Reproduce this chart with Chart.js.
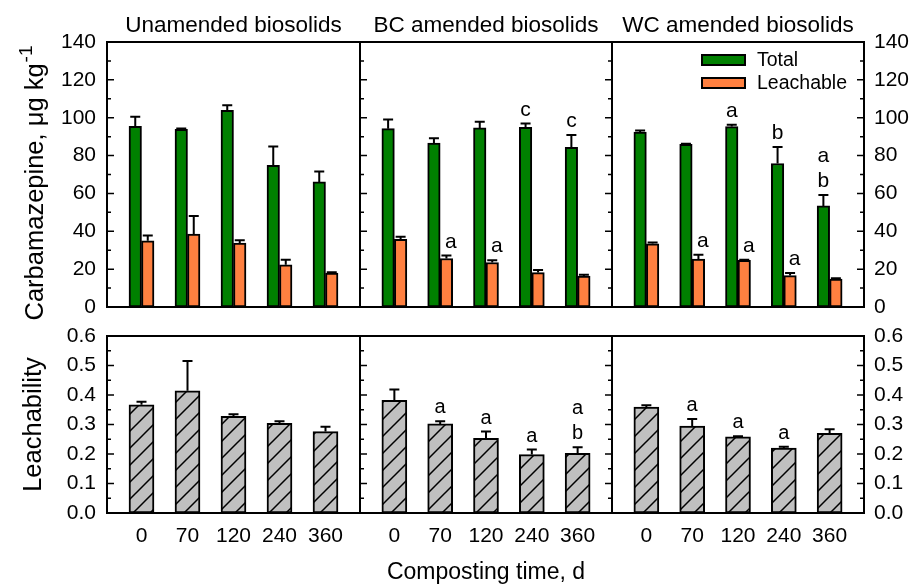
<!DOCTYPE html>
<html><head><meta charset="utf-8">
<script src="https://cdn.jsdelivr.net/npm/chart.js@4/dist/chart.umd.min.js"></script>
<style>
html,body{margin:0;padding:0;background:#fff;}
#wrap{position:relative;width:916px;height:586px;overflow:hidden;background:#fff;}
canvas{position:absolute;}
</style></head>
<body><div id="wrap">
<canvas id="c0" width="360" height="337" style="left:0;top:0"></canvas>
<canvas id="c1" width="252" height="337" style="left:360px;top:0"></canvas>
<canvas id="c2" width="304" height="337" style="left:612px;top:0"></canvas>
<canvas id="c3" width="360" height="280" style="left:0;top:306px"></canvas>
<canvas id="c4" width="252" height="280" style="left:360px;top:306px"></canvas>
<canvas id="c5" width="304" height="280" style="left:612px;top:306px"></canvas>
</div>
<script>
// ---------------- data ----------------
const days = ['0', '70', '120', '240', '360'];
const treatments = ['Unamended biosolids', 'BC amended biosolids', 'WC amended biosolids'];
const seriesNames = ['Total', 'Leachable'];
const yTitleTop = 'Carbamazepine, \u03bcg kg';
const yTitleTopSup = '-1';
const yTitleBottom = 'Leachability';
const xTitle = 'Composting time, d';

const totalUn = [95.5, 93.8, 103.9, 74.8, 66.1];
const totalUnErr = [5.0, 0.5, 2.7, 10.0, 5.5];
const leachUn = [35.0, 38.5, 33.8, 22.3, 17.9];
const leachUnErr = [2.8, 9.6, 1.4, 2.6, 0.5];

const totalBC = [94.2, 86.6, 94.6, 94.9, 84.3];
const totalBCErr = [4.8, 2.5, 3.3, 2.0, 6.6];
const leachBC = [35.7, 25.6, 23.5, 18.2, 16.4];
const leachBCErr = [1.4, 1.6, 1.2, 1.4, 0.7];

const totalWC = [92.4, 85.9, 95.3, 75.8, 53.4];
const totalWCErr = [0.9, 0.4, 1.0, 8.7, 5.8];
const leachWC = [33.4, 25.3, 24.7, 16.6, 14.8];
const leachWCErr = [0.7, 2.3, 0.3, 1.4, 0.4];

const leachabilityUn = [0.367, 0.414, 0.328, 0.304, 0.276];
const leachabilityUnErr = [0.010, 0.101, 0.007, 0.007, 0.016];
const leachabilityBC = [0.382, 0.302, 0.253, 0.198, 0.202];
const leachabilityBCErr = [0.037, 0.009, 0.023, 0.017, 0.021];
const leachabilityWC = [0.359, 0.295, 0.258, 0.220, 0.270];
const leachabilityWCErr = [0.006, 0.024, 0.002, 0.005, 0.014];

// significance letters (stacked top to bottom)
const none = [[], [], [], [], []];
const totalBCLetters = [[], [], [], ['c'], ['c']];
const leachBCLetters = [[], ['a'], ['a'], [], []];
const totalWCLetters = [[], [], ['a'], ['b'], ['a', 'b']];
const leachWCLetters = [[], ['a'], ['a'], ['a'], []];
const leachabilityBCLetters = [[], ['a'], ['a'], ['a'], ['a', 'b']];
const leachabilityWCLetters = [[], ['a'], ['a'], ['a'], []];

const yTicksTop = [0, 140, 20, 10];      // min, max, major step, minor step
const yTicksBottom = [0, 0.6, 0.1, 0.05];

// ---------------- styling ----------------
const FONT = "'Liberation Sans', Arial, Helvetica, sans-serif";
Chart.defaults.font.family = FONT;
Chart.defaults.color = '#000';
Chart.defaults.animation = false;

const GREEN = '#008000';
const ORANGE = '#ff8040';

function hatchPattern() {
  const s = 17;
  const c = document.createElement('canvas');
  c.width = s; c.height = s;
  const g = c.getContext('2d');
  g.fillStyle = '#c0c0c0';
  g.fillRect(0, 0, s, s);
  g.strokeStyle = '#000';
  g.lineWidth = 1.5;
  g.beginPath();
  g.moveTo(-2, s + 2); g.lineTo(s + 2, -2);
  g.moveTo(-2, 2); g.lineTo(2, -2);
  g.moveTo(s - 2, s + 2); g.lineTo(s + 2, s - 2);
  g.stroke();
  return g.createPattern(c, 'repeat');
}

const pts = arr => arr.map((v, i) => ({x: i, y: v}));

// ---------------- plugins ----------------
const framePlugin = {
  id: 'frame',
  afterDraw(chart, args, o) {
    const {ctx, chartArea: a} = chart;
    const y = chart.scales.y;
    ctx.save();
    ctx.strokeStyle = '#000';
    ctx.lineWidth = 1.5;
    ctx.beginPath();
    const n = Math.round((o.max - o.min) / o.minor);
    for (let k = 0; k <= n; k++) {
      const v = o.min + k * o.minor;
      const py = y.getPixelForValue(v);
      const len = (k % 2 === 0) ? 7 : 4;
      if (o.left) { ctx.moveTo(a.left, py); ctx.lineTo(a.left + len, py); }
      if (o.right) { ctx.moveTo(a.right, py); ctx.lineTo(a.right - len, py); }
    }
    ctx.stroke();
    ctx.lineWidth = 2;
    ctx.strokeRect(a.left, a.top, a.right - a.left, a.bottom - a.top);
    ctx.restore();
  }
};

const errPlugin = {
  id: 'errbars',
  afterDatasetsDraw(chart, args, o) {
    const ctx = chart.ctx, y = chart.scales.y;
    ctx.save();
    chart.data.datasets.forEach((ds, di) => {
      const meta = chart.getDatasetMeta(di);
      meta.data.forEach((bar, i) => {
        const v = ds.data[i].y;
        const e = ds.errors ? ds.errors[i] : 0;
        const top = y.getPixelForValue(v + e);
        ctx.strokeStyle = '#000';
        ctx.lineWidth = 2;
        ctx.beginPath();
        ctx.moveTo(bar.x, bar.y);
        ctx.lineTo(bar.x, top);
        ctx.moveTo(bar.x - 5, top);
        ctx.lineTo(bar.x + 5, top);
        ctx.stroke();
        const L = ds.letters ? ds.letters[i] : [];
        if (L && L.length) {
          ctx.fillStyle = '#000';
          ctx.font = o.letterSize + 'px ' + FONT;
          ctx.textAlign = 'center';
          ctx.textBaseline = 'alphabetic';
          for (let k = 0; k < L.length; k++) {
            const txt = L[L.length - 1 - k];
            ctx.fillText(txt, bar.x + (ds.letterDx || 0), top - 8 - k * 25);
          }
        }
      });
    });
    ctx.restore();
  }
};

const panelTitlePlugin = {
  id: 'panelTitle',
  afterDraw(chart, args, o) {
    if (!o.text) return;
    const {ctx, chartArea: a} = chart;
    ctx.save();
    ctx.fillStyle = '#000';
    ctx.font = '22.5px ' + FONT;
    ctx.textAlign = 'center';
    ctx.textBaseline = 'alphabetic';
    ctx.fillText(o.text, (a.left + a.right) / 2, 31.5);
    ctx.restore();
  }
};

const supTitlePlugin = {
  id: 'supTitle',
  afterDraw(chart, args, o) {
    if (!o.text) return;
    const ctx = chart.ctx;
    ctx.save();
    ctx.fillStyle = '#000';
    ctx.font = '25.5px ' + FONT;
    const w1 = ctx.measureText(o.text).width;
    ctx.font = '19px ' + FONT;
    const w2 = ctx.measureText(o.sup).width;
    const total = w1 + 1 + w2;
    const cy = 183;
    ctx.translate(43, cy + total / 2);
    ctx.rotate(-Math.PI / 2);
    ctx.textAlign = 'left';
    ctx.textBaseline = 'alphabetic';
    ctx.font = '25.5px ' + FONT;
    ctx.fillText(o.text, 0, 0);
    ctx.font = '19px ' + FONT;
    ctx.fillText(o.sup, w1 + 1, -11);
    ctx.restore();
  }
};

const legendPlugin = {
  id: 'boxLegend',
  afterDraw(chart, args, o) {
    if (!o.show) return;
    const {ctx, chartArea: a} = chart;
    ctx.save();
    chart.data.datasets.forEach((ds, i) => {
      const cy = 60 + i * 23;
      const x0 = a.left + 90;
      ctx.fillStyle = ds.backgroundColor;
      ctx.fillRect(x0, cy - 5, 43, 10);
      ctx.strokeStyle = '#000';
      ctx.lineWidth = 2;
      ctx.strokeRect(x0, cy - 5, 43, 10);
      ctx.fillStyle = '#000';
      ctx.font = '19.5px ' + FONT;
      ctx.textAlign = 'left';
      ctx.textBaseline = 'middle';
      ctx.fillText(ds.label, x0 + 55, cy + 1);
    });
    ctx.restore();
  }
};

// ---------------- scales ----------------
function xScale(bottomRow, title) {
  const sc = {
    type: 'linear', min: -0.75, max: 4.75, offset: false,
    display: bottomRow,
    grid: {display: false, drawTicks: false},
    border: {display: false},
    afterBuildTicks: s => { s.ticks = days.map((d, i) => ({value: i})); },
    ticks: {autoSkip: false, maxRotation: 0, padding: 11, font: {size: 21},
            callback: v => days[v]},
    title: title ? {display: true, text: title, font: {size: 23}, padding: {top: 0, bottom: 0}}
                 : {display: false}
  };
  if (bottomRow) sc.afterFit = s => { s.height = 73; };
  return sc;
}

function yScale(lim, side, show, title, fmt) {
  const sc = {
    type: 'linear', position: side, display: show,
    min: lim[0], max: lim[1],
    grid: {display: false, drawTicks: false},
    border: {display: false},
    ticks: {stepSize: lim[2], autoSkip: false, padding: side === 'left' ? 11 : 10, font: {size: 21},
            callback: v => fmt(v)},
    title: title ? {display: true, text: title, font: {size: 25.5}, padding: {top: 19, bottom: 0}}
                 : {display: false}
  };
  if (show) sc.afterFit = s => { s.width = side === 'left' ? 107 : 52; };
  return sc;
}

const fmtTop = v => String(Math.round(v));
const fmtBottom = v => v.toFixed(1);

function topChart(id, idx, total, totalErr, totalL, leach, leachErr, leachL, side) {
  const showY = side !== null;
  return new Chart(document.getElementById(id), {
    type: 'bar',
    data: {
      datasets: [
        {label: seriesNames[0], data: pts(total), errors: totalErr, letters: totalL, letterDx: 0,
         backgroundColor: GREEN, borderColor: '#000', borderWidth: 2, borderSkipped: false,
         barThickness: 12.5},
        {label: seriesNames[1], data: pts(leach), errors: leachErr, letters: leachL, letterDx: 4.5,
         backgroundColor: ORANGE, borderColor: '#000', borderWidth: 2, borderSkipped: false,
         barThickness: 12.5}
      ]
    },
    options: {
      responsive: false, animation: false,
      layout: {padding: {top: 42, bottom: 30, left: 0, right: 0}},
      scales: {
        x: xScale(false, null),
        y: yScale(yTicksTop, side || 'left', showY, null, fmtTop)
      },
      plugins: {
        legend: {display: false}, tooltip: {enabled: false},
        frame: {left: idx <= 1, right: idx >= 1, min: yTicksTop[0], max: yTicksTop[1], minor: yTicksTop[3]},
        errbars: {letterSize: 21},
        panelTitle: {text: treatments[idx]},
        supTitle: idx === 0 ? {text: yTitleTop, sup: yTitleTopSup} : {},
        boxLegend: {show: idx === 2}
      }
    },
    plugins: [errPlugin, framePlugin, panelTitlePlugin, supTitlePlugin, legendPlugin]
  });
}

function bottomChart(id, idx, vals, errs, letters, side) {
  const canvas = document.getElementById(id);
  const showY = side !== null;
  return new Chart(canvas, {
    type: 'bar',
    data: {
      datasets: [
        {label: yTitleBottom, data: pts(vals), errors: errs, letters: letters, letterDx: 0,
         backgroundColor: hatchPattern(), borderColor: '#000', borderWidth: 2, borderSkipped: false,
         barThickness: 25}
      ]
    },
    options: {
      responsive: false, animation: false,
      layout: {padding: {top: 30, bottom: 0, left: 0, right: 0}},
      scales: {
        x: xScale(true, idx === 1 ? xTitle : null),
        y: yScale(yTicksBottom, side || 'left', showY, idx === 0 ? yTitleBottom : null, fmtBottom)
      },
      plugins: {
        legend: {display: false}, tooltip: {enabled: false},
        frame: {left: idx <= 1, right: idx >= 1, min: yTicksBottom[0], max: yTicksBottom[1], minor: yTicksBottom[3]},
        errbars: {letterSize: 20}
      }
    },
    plugins: [errPlugin, framePlugin]
  });
}

topChart('c0', 0, totalUn, totalUnErr, none, leachUn, leachUnErr, none, 'left');
topChart('c1', 1, totalBC, totalBCErr, totalBCLetters, leachBC, leachBCErr, leachBCLetters, null);
topChart('c2', 2, totalWC, totalWCErr, totalWCLetters, leachWC, leachWCErr, leachWCLetters, 'right');
bottomChart('c3', 0, leachabilityUn, leachabilityUnErr, none, 'left');
bottomChart('c4', 1, leachabilityBC, leachabilityBCErr, leachabilityBCLetters, null);
bottomChart('c5', 2, leachabilityWC, leachabilityWCErr, leachabilityWCLetters, 'right');
</script>
</body></html>
